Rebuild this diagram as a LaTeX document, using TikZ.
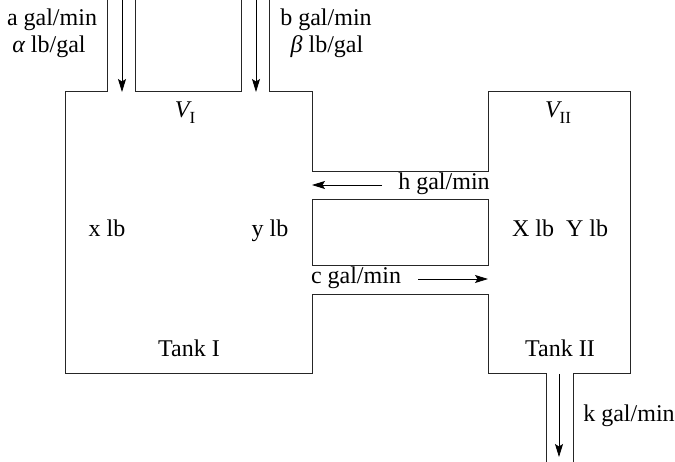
\documentclass[tikz,border=0pt]{standalone}
\usepackage{fontspec}
\setmainfont{Liberation Serif}
\usetikzlibrary{arrows.meta}
\newcommand{\tanksub}[1]{\raisebox{-0.22em}{\fontsize{17}{17}\selectfont #1}}
\tikzset{
  wall/.style={line width=0.8pt, draw=black!85},
  flow/.style={line width=0.8pt, -{Stealth[length=13pt,width=8pt,inset=2.5pt]}},
  lbl/.style={inner sep=0pt, anchor=base, font=\fontsize{24}{24}\selectfont},
}
\begin{document}
\begin{tikzpicture}[x=1pt,y=-1pt]
\useasboundingbox (0,0) rectangle (675,462);

% Tank I with its two inlet pipes
\draw[wall] (107,0) -- (107,91) -- (65,91) -- (65,373) -- (312,373) -- (312,294) -- (488,294) -- (488,373) -- (546,373) -- (546,462);
\draw[wall] (135,0) -- (135,91) -- (241,91) -- (241,0);
\draw[wall] (269,0) -- (269,91) -- (312,91) -- (312,171) -- (488,171) -- (488,91) -- (630,91) -- (630,373) -- (573,373) -- (573,462);
% block between the two connecting channels
\draw[wall] (312,199) rectangle (488,265);

% flow end points
\coordinate (aTop) at (122,0);
\coordinate (aEnd) at (122,92);
\coordinate (bTop) at (256,0);
\coordinate (bEnd) at (256,92);
\coordinate (hStart) at (382,185);
\coordinate (hEnd) at (312,185);
\coordinate (cStart) at (418,279);
\coordinate (cEnd) at (488,279);
\coordinate (kStart) at (559,374);
\coordinate (kEnd) at (559,457);

\draw[flow] (aTop) -- (aEnd);
\draw[flow] (bTop) -- (bEnd);
\draw[flow] (hStart) -- (hEnd);
\draw[flow] (cStart) -- (cEnd);
\draw[flow] (kStart) -- (kEnd);

% labels
\node[lbl] (aRate) at (52,26) {a gal/min};
\node[lbl] (aConc) at (49,53) {{\itshape α} lb/gal};
\node[lbl] (bRate) at (326,26) {b gal/min};
\node[lbl] (bConc) at (327,53) {{\itshape β} lb/gal};
\node[lbl] (vOne) at (185,118) {{\itshape V}\tanksub{I}};
\node[lbl] (vTwo) at (558,118) {{\itshape V}\tanksub{II}};
\node[lbl] (hRate) at (444,190) {h gal/min};
\node[lbl] (cRate) at (356,284) {c gal/min};
\node[lbl] (xAmt) at (107,237) {x lb};
\node[lbl] (yAmt) at (270,237) {y lb};
\node[lbl] (XYAmt) at (560,237) {X lb\hspace{0.5em}Y lb};
\node[lbl] (tankOne) at (189,357) {Tank I};
\node[lbl] (tankTwo) at (560,357) {Tank II};
\node[lbl] (kRate) at (629,421) {k gal/min};
\end{tikzpicture}
\end{document}
